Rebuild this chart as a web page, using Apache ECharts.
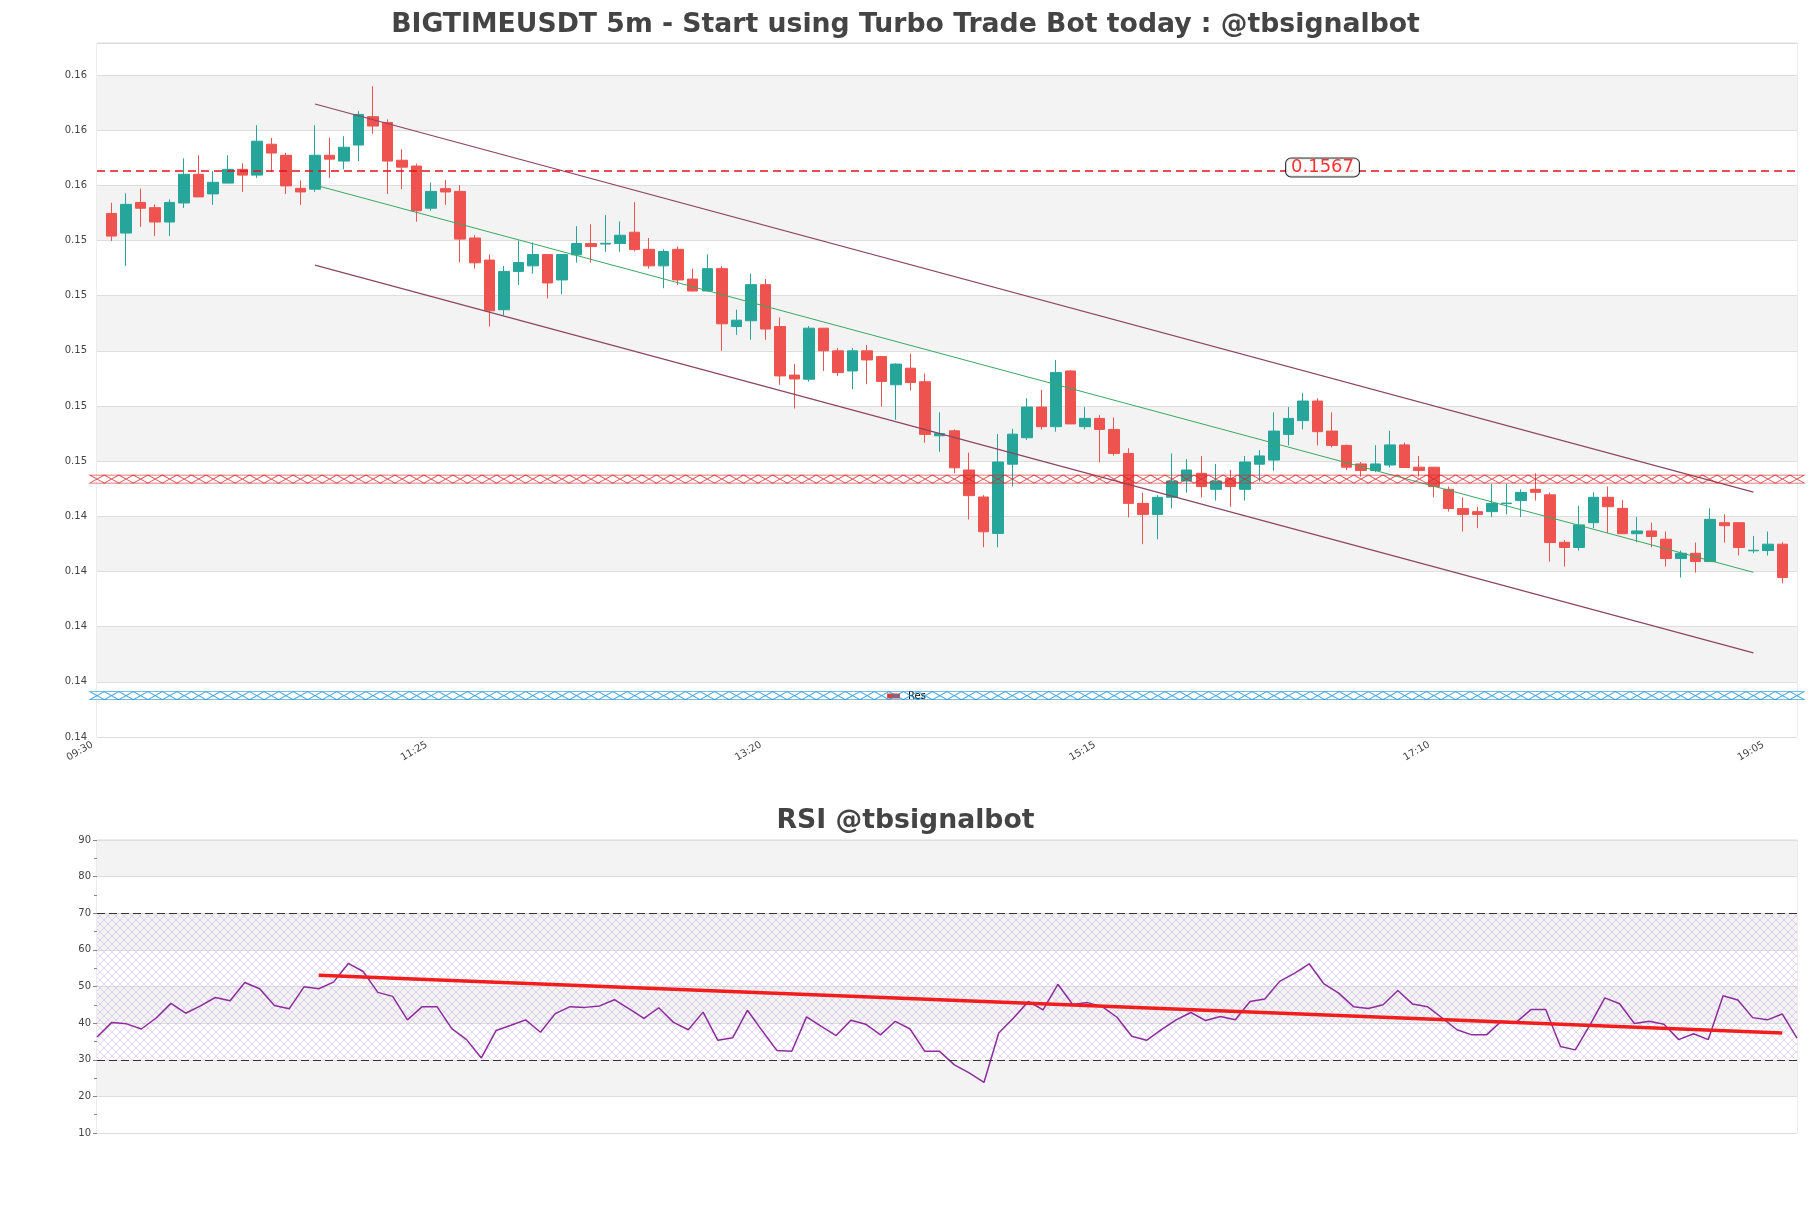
<!DOCTYPE html>
<html>
<head>
<meta charset="utf-8">
<script src="https://cdn.jsdelivr.net/npm/echarts@6/dist/echarts.min.js"></script>
<style>
  html, body { margin: 0; padding: 0; background: #fff; }
  #chart { width: 1811px; height: 1208px; }
</style>
</head>
<body>
<div id="chart"></div>
<script>
// 5m candles, 09:30 -> 19:05
var startTime = "09:30";
var stepMinutes = 5;
var labelEvery = 23;

var opens = [
  0.15498, 0.15427, 0.15538, 0.15519, 0.15467, 0.15536, 0.15640, 0.15569, 0.15608, 0.15658,
  0.15637, 0.15749, 0.15709, 0.15589, 0.15586, 0.15709, 0.15688, 0.15746, 0.15849, 0.15828,
  0.15691, 0.15670, 0.15517, 0.15588, 0.15578, 0.15409, 0.15329, 0.15149, 0.15288, 0.15308,
  0.15349, 0.15257, 0.15348, 0.15389, 0.15387, 0.15389, 0.15430, 0.15368, 0.15308, 0.15368,
  0.15260, 0.15217, 0.15298, 0.15088, 0.15109, 0.15240, 0.15088, 0.14912, 0.14897, 0.15082,
  0.15000, 0.14927, 0.15000, 0.14979, 0.14877, 0.14937, 0.14888, 0.14692, 0.14710, 0.14568,
  0.14470, 0.14338, 0.14589, 0.14685, 0.14796, 0.14725, 0.14927, 0.14725, 0.14755, 0.14715,
  0.14628, 0.14447, 0.14407, 0.14469, 0.14528, 0.14556, 0.14498, 0.14538, 0.14498, 0.14589,
  0.14604, 0.14697, 0.14747, 0.14818, 0.14709, 0.14657, 0.14590, 0.14566, 0.14586, 0.14659,
  0.14578, 0.14578, 0.14498, 0.14428, 0.14417, 0.14417, 0.14446, 0.14457, 0.14498, 0.14478,
  0.14306, 0.14287, 0.14377, 0.14469, 0.14429, 0.14337, 0.14347, 0.14317, 0.14247, 0.14266,
  0.14236, 0.14377, 0.14377, 0.14275, 0.14276, 0.14299
];
var closes = [
  0.15416, 0.15531, 0.15517, 0.15467, 0.15538, 0.15640, 0.15558, 0.15611, 0.15658, 0.15637,
  0.15760, 0.15717, 0.15598, 0.15576, 0.15709, 0.15695, 0.15738, 0.15857, 0.15815, 0.15688,
  0.15666, 0.15508, 0.15578, 0.15576, 0.15405, 0.15319, 0.15145, 0.15288, 0.15320, 0.15349,
  0.15246, 0.15349, 0.15389, 0.15378, 0.15390, 0.15419, 0.15367, 0.15308, 0.15360, 0.15257,
  0.15217, 0.15298, 0.15098, 0.15111, 0.15240, 0.15079, 0.14909, 0.14898, 0.15082, 0.15000,
  0.14921, 0.15000, 0.14967, 0.14889, 0.14952, 0.14885, 0.14697, 0.14700, 0.14576, 0.14475,
  0.14344, 0.14597, 0.14698, 0.14796, 0.14725, 0.14921, 0.14735, 0.14755, 0.14715, 0.14628,
  0.14447, 0.14407, 0.14469, 0.14528, 0.14568, 0.14508, 0.14528, 0.14508, 0.14597, 0.14619,
  0.14709, 0.14755, 0.14818, 0.14707, 0.14657, 0.14578, 0.14566, 0.14590, 0.14659, 0.14577,
  0.14566, 0.14508, 0.14428, 0.14407, 0.14407, 0.14447, 0.14448, 0.14487, 0.14487, 0.14305,
  0.14287, 0.14369, 0.14469, 0.14435, 0.14337, 0.14347, 0.14327, 0.14247, 0.14266, 0.14236,
  0.14389, 0.14366, 0.14287, 0.14277, 0.14299, 0.14178
];
var lows = [
  0.15398, 0.15308, 0.15449, 0.15416, 0.15416, 0.15518, 0.15558, 0.15529, 0.15608, 0.15576,
  0.15627, 0.15648, 0.15569, 0.15529, 0.15576, 0.15627, 0.15658, 0.15688, 0.15787, 0.15569,
  0.15586, 0.15468, 0.15508, 0.15529, 0.15320, 0.15298, 0.15088, 0.15129, 0.15239, 0.15280,
  0.15190, 0.15205, 0.15320, 0.15320, 0.15359, 0.15359, 0.15360, 0.15298, 0.15227, 0.15239,
  0.15215, 0.15215, 0.15000, 0.15058, 0.15040, 0.15040, 0.14877, 0.14791, 0.14888, 0.14927,
  0.14909, 0.14861, 0.14879, 0.14798, 0.14750, 0.14856, 0.14667, 0.14634, 0.14556, 0.14389,
  0.14288, 0.14288, 0.14508, 0.14677, 0.14715, 0.14707, 0.14735, 0.14715, 0.14596, 0.14620,
  0.14396, 0.14299, 0.14317, 0.14429, 0.14486, 0.14469, 0.14457, 0.14435, 0.14457, 0.14526,
  0.14565, 0.14657, 0.14715, 0.14657, 0.14650, 0.14568, 0.14544, 0.14560, 0.14577, 0.14577,
  0.14544, 0.14469, 0.14417, 0.14345, 0.14357, 0.14397, 0.14407, 0.14397, 0.14457, 0.14236,
  0.14218, 0.14276, 0.14357, 0.14339, 0.14337, 0.14306, 0.14288, 0.14218, 0.14178, 0.14196,
  0.14236, 0.14305, 0.14258, 0.14266, 0.14258, 0.14157
];
var highs = [
  0.15537, 0.15571, 0.15588, 0.15531, 0.15549, 0.15698, 0.15709, 0.15651, 0.15709, 0.15680,
  0.15818, 0.15772, 0.15718, 0.15618, 0.15818, 0.15772, 0.15778, 0.15869, 0.15959, 0.15839,
  0.15731, 0.15679, 0.15610, 0.15619, 0.15601, 0.15419, 0.15349, 0.15308, 0.15400, 0.15393,
  0.15349, 0.15349, 0.15452, 0.15459, 0.15492, 0.15469, 0.15539, 0.15409, 0.15368, 0.15378,
  0.15298, 0.15349, 0.15308, 0.15149, 0.15280, 0.15260, 0.15121, 0.14952, 0.15090, 0.15082,
  0.15010, 0.15010, 0.15021, 0.14979, 0.14955, 0.14989, 0.14918, 0.14777, 0.14715, 0.14631,
  0.14477, 0.14698, 0.14717, 0.14828, 0.14858, 0.14967, 0.14930, 0.14796, 0.14767, 0.14758,
  0.14647, 0.14486, 0.14477, 0.14628, 0.14607, 0.14619, 0.14590, 0.14568, 0.14619, 0.14640,
  0.14777, 0.14796, 0.14848, 0.14828, 0.14777, 0.14660, 0.14597, 0.14658, 0.14710, 0.14667,
  0.14619, 0.14578, 0.14508, 0.14469, 0.14435, 0.14517, 0.14517, 0.14498, 0.14556, 0.14486,
  0.14314, 0.14438, 0.14487, 0.14508, 0.14459, 0.14397, 0.14377, 0.14345, 0.14276, 0.14305,
  0.14429, 0.14407, 0.14377, 0.14329, 0.14345, 0.14306
];

var rsiValues = [
  36.2, 40.2, 39.8, 38.4, 41.4, 45.4, 42.7, 44.7, 47.0, 46.1,
  51.1, 49.4, 44.8, 43.9, 49.9, 49.4, 51.2, 56.3, 54.1, 48.4,
  47.3, 40.9, 44.5, 44.5, 38.5, 35.5, 30.5, 38.0, 39.4, 40.9,
  37.5, 42.6, 44.5, 44.3, 44.7, 46.4, 43.9, 41.3, 44.2, 40.2,
  38.2, 43.0, 35.3, 36.0, 43.5, 37.9, 32.5, 32.3, 41.7, 39.1,
  36.6, 40.8, 39.7, 36.8, 40.5, 38.4, 32.3, 32.3, 28.6, 26.4,
  23.8, 37.3, 41.4, 45.9, 43.6, 50.6, 45.1, 45.6, 44.5, 41.6,
  36.4, 35.3, 38.2, 40.9, 42.9, 40.7, 41.8, 40.9, 45.9, 46.6,
  51.4, 53.6, 56.2, 50.7, 48.2, 44.5, 44.0, 45.0, 48.9, 45.2,
  44.5, 41.4, 38.2, 36.8, 36.8, 40.5, 40.2, 43.7, 43.7, 33.6,
  32.7, 39.5, 46.9, 45.3, 39.9, 40.5, 39.7, 35.5, 37.1, 35.5,
  47.5, 46.3, 41.5, 40.9, 42.5, 35.9
];

// levels and trend lines
var resLevel = 0.14535;
var supLevel = 0.13750;
var priceLevel = 0.15654;
var priceText = "0.1567";
var priceLabelAt = "16:25";
var channelFrom = "10:40", channelTo = "18:55";
var midLine = [0.15601, 0.14197];
var upperLine = [0.15895, 0.14488];
var lowerLine = [0.15311, 0.13905];
var rsiTrendFrom = "10:45", rsiTrendTo = "19:00";
var rsiTrend = [53.1, 37.3];
var rsiBounds = [30, 70];

var times = [];
(function () {
  var p = startTime.split(":");
  var m = +p[0] * 60 + +p[1];
  for (var i = 0; i < opens.length; i++) {
    var t = m + i * stepMinutes;
    var hh = Math.floor(t / 60), mm = t % 60;
    times.push((hh < 10 ? "0" : "") + hh + ":" + (mm < 10 ? "0" : "") + mm);
  }
})();

// price axis gets one empty slot on each side
var priceCats = [" "].concat(times).concat(["  "]);

var candleData = [];
for (var i = 0; i < opens.length; i++) {
  candleData.push([times[i], opens[i], closes[i], lows[i], highs[i]]);
}

function bandData(level) {
  var out = [];
  for (var k = 0; k < priceCats.length; k++) out.push([k, level]);
  return out;
}

function hatchCanvas() {
  var c = document.createElement("canvas");
  c.width = 8;
  c.height = 8;
  var g = c.getContext("2d");
  g.strokeStyle = "rgba(175,140,215,0.35)";
  g.lineWidth = 1;
  g.beginPath();
  g.moveTo(0, 0); g.lineTo(8, 8);
  g.moveTo(8, 0); g.lineTo(0, 8);
  g.stroke();
  return c;
}

var font = "DejaVu Sans";
var hourglass = "path://M0,0L10,0L0,8L10,8Z";

var chart = echarts.init(document.getElementById("chart"));

var option = {
  animation: false,
  backgroundColor: "#fff",
  textStyle: { fontFamily: font },
  title: [
    {
      text: "BIGTIMEUSDT 5m - Start using Turbo Trade Bot today : @tbsignalbot",
      left: "center",
      top: 7,
      textStyle: { fontFamily: font, fontSize: 26.7, fontWeight: "bold", color: "#444" }
    },
    {
      text: "RSI @tbsignalbot",
      left: "center",
      top: 803,
      textStyle: { fontFamily: font, fontSize: 26.7, fontWeight: "bold", color: "#444" }
    }
  ],
  legend: {
    data: [{ name: "Res", icon: "rect", itemStyle: { color: "#d62728" } }],
    left: 882,
    top: 687,
    padding: [4, 9, 4, 5],
    itemWidth: 11,
    itemHeight: 3,
    backgroundColor: "#fff",
    selectedMode: false,
    textStyle: { fontFamily: font, fontSize: 10, color: "#000", padding: [0, 0, 0, 4] }
  },
  grid: [
    { left: 97, right: 14, top: 43, height: 694, show: true, borderColor: "#d9d9d9", borderWidth: 1 },
    { left: 97, right: 14, top: 840, height: 293, show: true, borderColor: "#d9d9d9", borderWidth: 1 }
  ],
  xAxis: [
    {
      type: "category",
      gridIndex: 0,
      data: priceCats,
      boundaryGap: false,
      axisLine: { show: false },
      axisTick: { show: false },
      splitLine: { show: false },
      axisLabel: {
        interval: function (idx) { return idx > 0 && idx < priceCats.length - 1 && (idx - 1) % labelEvery === 0; },
        rotate: 30,
        margin: -4,
        padding: [0, 22, 0, 0],
        fontSize: 10,
        color: "#444",
        fontFamily: font
      }
    },
    {
      type: "category",
      gridIndex: 1,
      data: times,
      boundaryGap: false,
      axisLine: { show: false },
      axisTick: { show: false },
      axisLabel: { show: false },
      splitLine: { show: false }
    }
  ],
  yAxis: [
    {
      type: "value",
      gridIndex: 0,
      min: 0.136,
      max: 0.16116,
      interval: 0.002,
      axisLine: { show: false },
      axisTick: { show: false },
      axisLabel: {
        showMaxLabel: false,
        fontSize: 10,
        color: "#444",
        margin: 10,
        fontFamily: font,
        formatter: function (v) { return v.toFixed(2); }
      },
      splitLine: { lineStyle: { color: "#dedede", width: 1 } },
      splitArea: { show: true, areaStyle: { color: ["#ffffff", "#f3f3f3"] } }
    },
    {
      type: "value",
      gridIndex: 1,
      min: 10,
      max: 90,
      interval: 10,
      axisLine: { show: false },
      axisTick: { show: true, length: 4, lineStyle: { color: "#888" } },
      minorTick: { show: true, splitNumber: 2, length: 3, lineStyle: { color: "#888" } },
      axisLabel: { fontSize: 10, color: "#444", margin: 6, fontFamily: font },
      splitLine: { lineStyle: { color: "#dedede", width: 1 } },
      splitArea: { show: true, areaStyle: { color: ["#ffffff", "#f3f3f3"] } }
    }
  ],
  series: [
    {
      name: "Price",
      type: "candlestick",
      xAxisIndex: 0,
      yAxisIndex: 0,
      data: candleData,
      encode: { x: 0, y: [1, 2, 3, 4] },
      barWidth: 11,
      itemStyle: {
        color: "#26a69a",
        color0: "#ef5350",
        borderColor: "#26a69a",
        borderColor0: "#ef5350",
        borderWidth: 1
      },
      z: 2
    },
    {
      name: "Upper",
      type: "line",
      xAxisIndex: 0,
      yAxisIndex: 0,
      data: [[channelFrom, upperLine[0]], [channelTo, upperLine[1]]],
      showSymbol: false,
      silent: true,
      lineStyle: { color: "#8e4562", width: 1.2 },
      z: 3
    },
    {
      name: "Lower",
      type: "line",
      xAxisIndex: 0,
      yAxisIndex: 0,
      data: [[channelFrom, lowerLine[0]], [channelTo, lowerLine[1]]],
      showSymbol: false,
      silent: true,
      lineStyle: { color: "#8e4562", width: 1.2 },
      z: 3
    },
    {
      name: "Mid",
      type: "line",
      xAxisIndex: 0,
      yAxisIndex: 0,
      data: [[channelFrom, midLine[0]], [channelTo, midLine[1]]],
      showSymbol: false,
      silent: true,
      lineStyle: { color: "#3aa862", width: 1 },
      z: 3
    },
    {
      name: "Res",
      type: "scatter",
      xAxisIndex: 0,
      yAxisIndex: 0,
      data: bandData(resLevel),
      symbol: hourglass,
      symbolSize: [14.5, 8],
      silent: true,
      itemStyle: { color: "transparent", borderColor: "#d62728", borderWidth: 1 },
      z: 4
    },
    {
      name: "Sup",
      type: "scatter",
      xAxisIndex: 0,
      yAxisIndex: 0,
      data: bandData(supLevel),
      symbol: hourglass,
      symbolSize: [14.5, 8],
      silent: true,
      itemStyle: { color: "transparent", borderColor: "#1f93d8", borderWidth: 1 },
      z: 4
    },
    {
      name: "PriceTag",
      type: "scatter",
      xAxisIndex: 0,
      yAxisIndex: 0,
      data: [[priceLabelAt, priceLevel]],
      symbolSize: 0,
      silent: true,
      z: 5,
      markLine: {
        silent: true,
        symbol: "none",
        precision: 6,
        label: { show: false },
        lineStyle: { color: "#e3121b", type: [8, 5], width: 1.5 },
        data: [{ yAxis: priceLevel }]
      },
      label: {
        show: true,
        position: "inside",
        offset: [5, -3],
        formatter: priceText,
        fontFamily: font,
        fontSize: 18,
        lineHeight: 18,
        color: "#ff0000",
        backgroundColor: "#fff",
        borderColor: "#000",
        borderWidth: 1,
        borderRadius: 5,
        padding: [0, 5, 0, 5]
      }
    },
    {
      name: "RSI",
      type: "line",
      xAxisIndex: 1,
      yAxisIndex: 1,
      data: rsiValues,
      showSymbol: false,
      silent: true,
      lineStyle: { color: "#8e2c9e", width: 1.5 },
      markArea: {
        silent: true,
        itemStyle: { color: { image: hatchCanvas(), repeat: "repeat" } },
        data: [[{ yAxis: rsiBounds[0] }, { yAxis: rsiBounds[1] }]]
      },
      markLine: {
        silent: true,
        symbol: "none",
        label: { show: false },
        lineStyle: { color: "#333", type: [8, 4], width: 1 },
        data: [{ yAxis: rsiBounds[1] }, { yAxis: rsiBounds[0] }]
      },
      z: 3
    },
    {
      name: "RSI trend",
      type: "line",
      xAxisIndex: 1,
      yAxisIndex: 1,
      data: [[rsiTrendFrom, rsiTrend[0]], [rsiTrendTo, rsiTrend[1]]],
      showSymbol: false,
      silent: true,
      lineStyle: { color: "#f21d1d", width: 3.5 },
      z: 4
    }
  ]
};

chart.setOption(option);
</script>
</body>
</html>
